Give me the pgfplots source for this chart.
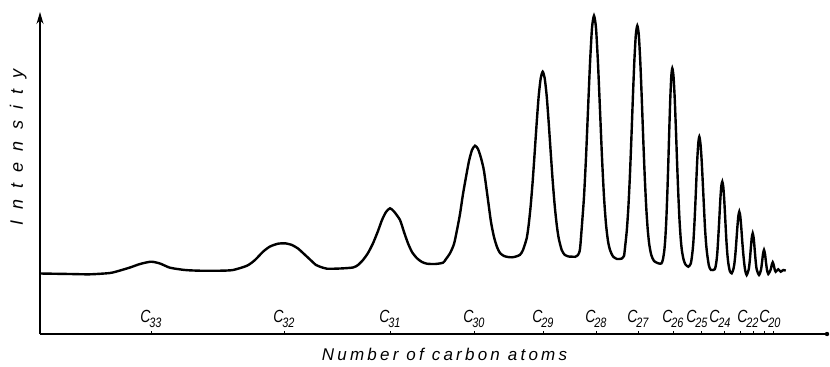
\documentclass[border=0pt]{standalone}
\usepackage{pgfplots}
\pgfplotsset{compat=1.18}
\usepackage{fontspec}
\setmainfont{Liberation Sans}
\usetikzlibrary{arrows.meta}
\newfontfamily\ylabfont[LetterSpace=62]{Liberation Sans}
\newfontfamily\xlabfont[LetterSpace=19]{Liberation Sans}
\newfontfamily\labfont[FakeStretch=0.8]{Liberation Sans}
\newcommand{\CC}[1]{\labfont\itshape C\kern-0.6pt\raisebox{-0.6ex}{\fontsize{6.8}{7}\selectfont #1}}
\begin{document}
\begin{tikzpicture}
\begin{axis}[
  scale only axis, width=394pt, height=160pt,
  xmin=40, xmax=828, ymin=0, ymax=320,
  axis lines=none, clip=false]
% chromatogram trace (pixel-based units)
\addplot[black, line width=1.2pt, smooth, tension=0.4] coordinates {
(40,60.5) (70,60) (90,59.7) (110,61) (120,63.5) (130,66.5) (140,70) (151,72.3)
(160,70.5) (170,66.3) (185,64) (200,63.3) (220,63.3) (233,64)
(247,68.3) (255,74) (263,82.3) (270,87.5) (278,90.3) (285,90.7) (292,89) (298,85.5)
(303,81) (310,74.5) (316,69) (320,67.3) (327,65.3) (340,65.5) (353,66.5)
(358,69) (363,74) (368,81) (373,90.7) (378,103) (382,114) (386,122) (390,125.7)
(394,122.5) (400,114) (404,102) (408,90.7) (412,82) (417,75.7) (422,72) (427,70.3)
(435,70) (443,71.3)
(446,75) (450,80.7) (454,90) (457,104) (460,120) (463,140) (466,157) (469,173) (472,184) (475,188.3)
(478,185) (481,176) (484,163) (488,134) (491,112) (494,97) (497,87) (500,81) (504,78) (508,77) (512,76.7)
(516,77.5) (520,79.2) (523,84) (526.7,95.8) (528.7,109.4) (530.7,128.5) (532.7,153) (534.7,181.7)
(536.7,211.4) (538.7,238) (540.7,255.7) (542.7,262.3) (544.7,255.7) (546.7,238) (548.7,211.4)
(550.7,181.7) (552.7,153) (554.7,128.5) (556.7,109.4) (558.7,95.8) (561.7,84) (564.7,79.2) (568.7,77.5) (572.7,77.3)
(575,77.2) (578,79) (580,85) (582,109.7) (584,137.2) (586,176.5) (588,223.9) (590,270.6) (592,306) (594,318.3)
(596,306) (598,270.6) (600,223.9) (602,176.5) (604,137.2) (606,109.7) (608,92.9) (610,84) (613,77.6) (617,75)
(622,75.5) (624,78) (625.3,89) (626.8,103.6) (628.3,125.5) (629.8,156) (631.3,193.5) (632.8,234.5) (634.3,272)
(635.8,299) (637.3,308.3) (638.8,299) (640.3,272) (641.8,234.5) (643.3,193.5) (644.8,156) (646.3,125.5)
(647.8,103.6) (649.3,89.3) (651.3,79) (654,73) (658.3,70.7)
(661.3,70.5) (662.8,74) (664.3,83.4) (665.3,95.5) (666.3,114) (667.3,140) (668.3,171) (669.3,205) (670.3,236)
(671.3,257.8) (672.3,265.7) (673.5,257.8) (674.7,236) (675.9,205) (677.1,171) (678.3,140) (679.5,114)
(680.7,95.5) (681.9,83.4) (683.7,74) (685.5,69.5) (688.3,67.3)
(690.8,70.5) (692.3,80.5) (693.3,91) (694.3,108) (695.3,129) (696.3,152.7) (697.3,175) (698.3,191) (699.3,197.3)
(700.45,190.5) (701.6,174.5) (702.75,152) (703.9,128) (705,106) (706.2,89) (707.4,78) (709,68) (711,64)
(714.8,64.8) (716.3,71.7) (717.3,81) (718.3,97) (719.3,115) (720.3,134) (721.3,148) (722.3,152.3)
(723.3,147) (724.3,133) (725.3,114) (726.3,95) (727.3,80.5) (728.3,71) (729.8,63) (731.7,60.7)
(733.3,64.5) (734.3,69.7) (735.3,79) (736.3,92) (737.3,106) (738.3,117.6) (739.3,122.3) (740.3,117.6)
(741.3,106) (742.3,92) (743.3,80) (744.3,70) (745.3,63) (746.7,59)
(748.7,64.6) (749.7,72.5) (750.7,84.3) (751.7,95.8) (752.7,100.7) (753.7,95.8) (754.7,84.3) (755.7,72.5) (756.7,64.6) (759,59)
(761,64.2) (762,71.5) (763,80) (764,84) (765,80) (766,71.5) (767,64.2) (768.3,60)
(770.7,64.5) (771.7,69) (772.7,71.7) (773.7,69) (774.7,64.5) (775.7,62.3) (778.3,64.7) (780.7,62.3) (783.3,64) (785.7,63.3)
};
% tick marks
\addplot[ycomb, black, line width=0.5pt, mark=none] coordinates {
(151.7,3) (284,3) (390.7,3) (474,3) (543,3) (596,3) (638,3) (673,3)
(701,3) (724,3) (740,3) (753,3) (764,3) (773,3)
};
% axes
\draw[line width=0.6pt, -{Stealth[length=6pt,width=3.5pt]}] (axis cs:40,0) -- (axis cs:40,322);
\draw[line width=0.6pt] (axis cs:40,0) -- (axis cs:827,0);
\fill (axis cs:827,0) circle (1.1pt);
% category labels
\begin{scope}[every node/.style={anchor=base, inner sep=0pt, font=\fontsize{8.8}{10}\selectfont}]
\node at (axis cs:151,12) {\CC{33}};
\node at (axis cs:284,12) {\CC{32}};
\node at (axis cs:390,12) {\CC{31}};
\node at (axis cs:474,12) {\CC{30}};
\node at (axis cs:543,12) {\CC{29}};
\node at (axis cs:596,12) {\CC{28}};
\node at (axis cs:638,12) {\CC{27}};
\node at (axis cs:673,12) {\CC{26}};
\node at (axis cs:697,12) {\CC{25}};
\node at (axis cs:720,12) {\CC{24}};
\node at (axis cs:748,12) {\CC{22}};
\node at (axis cs:770,12) {\CC{20}};
\end{scope}
\node[anchor=base, inner sep=0pt, font=\fontsize{8.5}{10}\selectfont] at (axis cs:444.5,-26) {\xlabfont\itshape Number of carbon atoms};
\node[anchor=base, rotate=90, inner sep=0pt, font=\fontsize{9}{10}\selectfont] at (axis cs:23,186.5) {\ylabfont\itshape Intensity};
\coordinate (bl) at (axis cs:0,-32);
\coordinate (tr) at (axis cs:830,334);
\end{axis}
\pgfresetboundingbox
\path (bl) rectangle (tr);
\end{tikzpicture}
\end{document}
